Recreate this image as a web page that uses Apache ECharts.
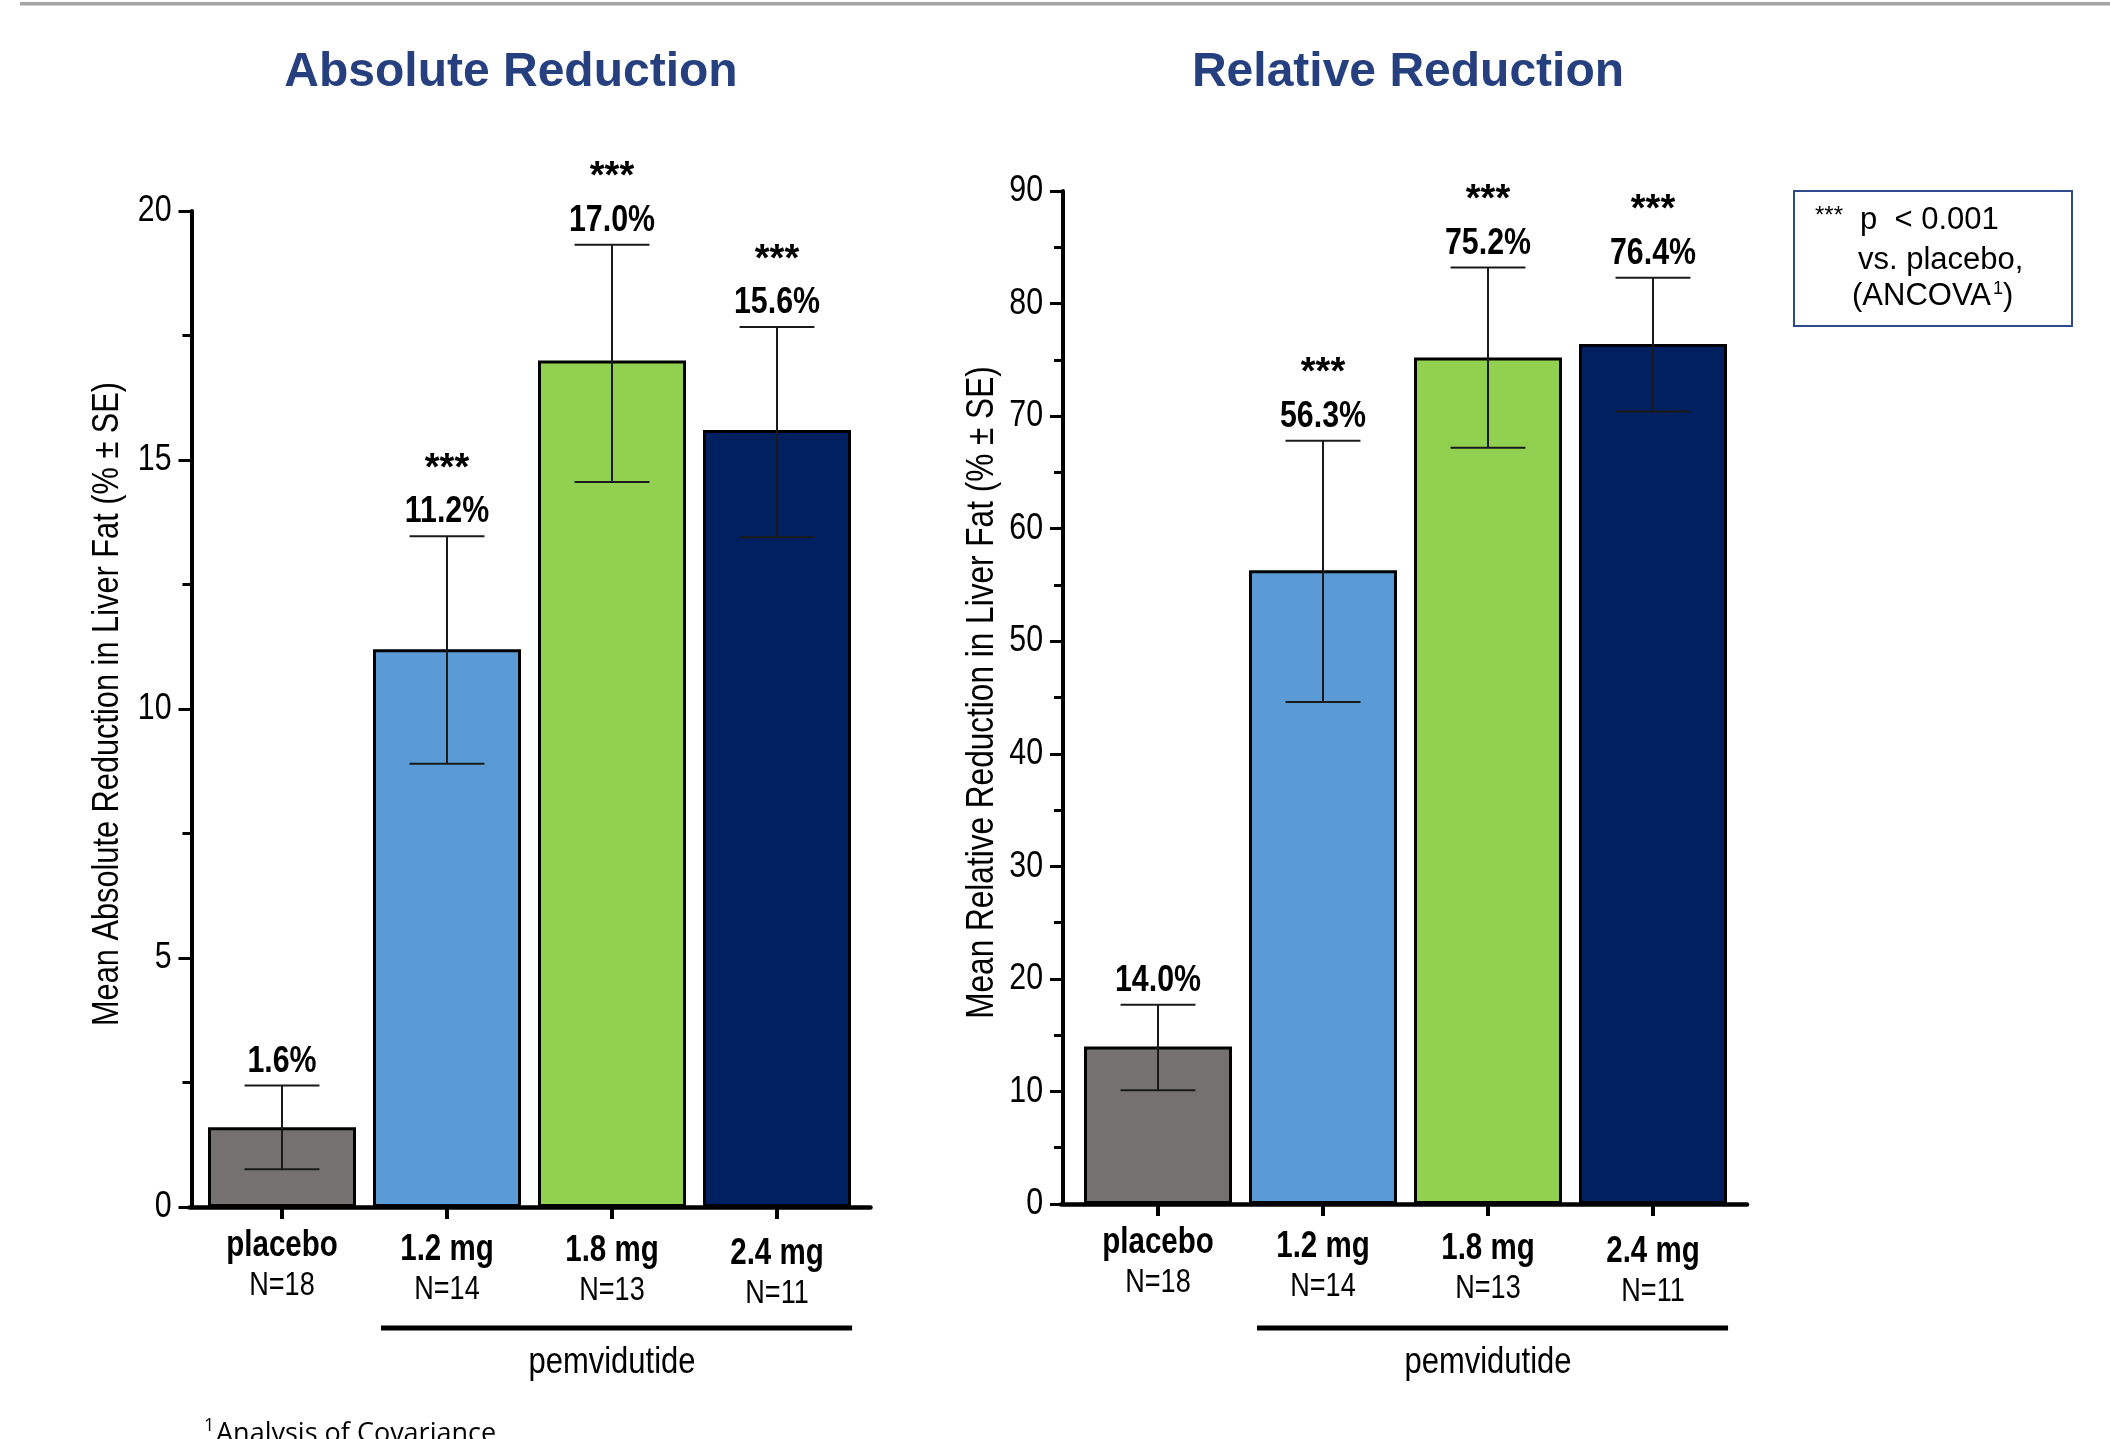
<!DOCTYPE html>
<html><head><meta charset="utf-8">
<script src="https://cdn.jsdelivr.net/npm/echarts@6/dist/echarts.min.js"></script>
<style>html,body{margin:0;padding:0;background:#fff;overflow:hidden}#c{width:2110px;height:1439px}</style>
</head><body><div id="c"></div>
<script>
// ---- data ----
const categories = ['placebo', '1.2 mg', '1.8 mg', '2.4 mg'];
const nLabels = ['N=18', 'N=14', 'N=13', 'N=11'];
const sigMarks = ['', '***', '***', '***'];
const absMean = [1.6, 11.2, 17.0, 15.6];
const absLow  = [0.76, 8.9, 14.56, 13.45];
const absHigh = [2.44, 13.47, 19.32, 17.67];
const relMean = [14.0, 56.3, 75.2, 76.4];
const relLow  = [10.1, 44.6, 67.2, 70.4];
const relHigh = [17.7, 67.8, 83.2, 82.3];
const absTicks = [0, 5, 10, 15, 20];
const relTicks = [0, 10, 20, 30, 40, 50, 60, 70, 80, 90];
const groupLabel = 'pemvidutide';
const groupRange = [1, 3];
const titles = ['Absolute Reduction', 'Relative Reduction'];
const yNames = ['Mean Absolute Reduction in Liver Fat (% \u00b1 SE)', 'Mean Relative Reduction in Liver Fat (% \u00b1 SE)'];
const legendLines = ['p  < 0.001', 'vs. placebo,', '(ANCOVA'];
const footnote = 'Analysis of Covariance';

// ---- style ----
const barColors = ['#767171', '#5b9bd5', '#92d050', '#002060'];
const SANS = '"Liberation Sans",Arial,Helvetica,sans-serif';
const NX = 0.82; // horizontal condensing to mimic a narrow face
const NAVY = '#253f7f';
const staggerL = [0, 4, 5, 8];
const staggerR = [0, 4, 6, 9];
const yOffsets = [8, 12.5];
const nameSizes = [37.5, 38.5];

const chart = echarts.init(document.getElementById('c'));

function ntext(x, y, text, font, align, extra, sx) {
  return Object.assign({ type: 'text', x: x, y: y, scaleX: sx || NX, silent: true,
    style: { text: text, x: 0, y: 0, align: align || 'center', verticalAlign: 'middle', font: font, fill: '#000' } }, extra || {});
}

function xCat(gi) {
  return {
    type: 'category', gridIndex: gi, data: categories,
    axisLine: { show: false },
    axisTick: { show: true, alignWithLabel: true, length: 12, lineStyle: { width: 4, color: '#000' } },
    axisLabel: { show: false }, splitLine: { show: false }
  };
}
function xLine(gi) {
  return {
    type: 'value', gridIndex: gi, min: 0, max: 1,
    axisLine: { show: true, onZero: false, lineStyle: { color: '#000', width: 4.5 } },
    axisTick: { show: false }, axisLabel: { show: false }, splitLine: { show: false }
  };
}
function yVal(gi, ticks, offset) {
  return {
    type: 'value', gridIndex: gi, min: ticks[0], max: ticks[ticks.length - 1], interval: ticks[1] - ticks[0],
    offset: offset,
    axisLine: { show: true, lineStyle: { color: '#000', width: 4 } },
    axisTick: { show: true, length: 13, lineStyle: { width: 3, color: '#000' } },
    minorTick: { show: true, splitNumber: 2, length: 9, lineStyle: { width: 3, color: '#000' } },
    splitLine: { show: false }, minorSplitLine: { show: false },
    axisLabel: { show: false }
  };
}
function yHidden(gi) {
  return { type: 'value', gridIndex: gi, min: 0, max: 1, show: false };
}
function barSeries(xi, mean) {
  return {
    type: 'bar', xAxisIndex: xi, yAxisIndex: xi, barWidth: 148, z: 2,
    data: mean.map((v, i) => ({ value: v, itemStyle: { color: barColors[i] } })),
    itemStyle: { borderColor: '#000', borderWidth: 3 },
    emphasis: { disabled: true }, animation: false
  };
}
function errSeries(xi, mean, low, high) {
  return {
    type: 'custom', xAxisIndex: xi, yAxisIndex: xi, z: 5, clip: false, animation: false, silent: true,
    data: categories.map((c, i) => [i, low[i], high[i], mean[i]]),
    renderItem: (params, api) => {
      const i = api.value(0);
      const lo = api.coord([i, api.value(1)]);
      const hi = api.coord([i, api.value(2)]);
      const half = api.size([1, 0])[0] * 0.227;
      const x = hi[0];
      const ls = { stroke: '#1a1a1a', lineWidth: 2 };
      const ch = [
        { type: 'line', shape: { x1: x, y1: lo[1], x2: x, y2: hi[1] }, style: ls },
        { type: 'line', shape: { x1: x - half, y1: hi[1], x2: x + half, y2: hi[1] }, style: ls },
        { type: 'line', shape: { x1: x - half, y1: lo[1], x2: x + half, y2: lo[1] }, style: ls },
        ntext(x, hi[1] - 24, api.value(3).toFixed(1) + '%', 'bold 37px ' + SANS)
      ];
      if (sigMarks[i]) ch.push({ type: 'text', x: x, y: hi[1] - 67, silent: true,
        style: { text: sigMarks[i], x: 0, y: 0, align: 'center', verticalAlign: 'middle', font: 'bold 38px ' + SANS, fill: '#000' } });
      return { type: 'group', children: ch };
    }
  };
}
function catLabelSeries(xi, stagger) {
  return {
    type: 'custom', xAxisIndex: xi, yAxisIndex: xi, z: 5, clip: false, animation: false, silent: true,
    data: categories.map((c, i) => [i, 0]),
    renderItem: (params, api) => {
      const i = api.value(0);
      const p = api.coord([i, 0]);
      return { type: 'group', children: [
        ntext(p[0], p[1] + 39 + stagger[i], categories[i], 'bold 36px ' + SANS),
        ntext(p[0], p[1] + 79 + stagger[i], nLabels[i], '33px ' + SANS)
      ] };
    }
  };
}
function yLabelSeries(xi, ticks, name, nameDist) {
  const mid = (ticks[0] + ticks[ticks.length - 1]) / 2;
  return {
    type: 'custom', xAxisIndex: xi, yAxisIndex: xi, z: 5, clip: false, animation: false, silent: true,
    dimensions: ['x', 'y', 'kind'],
    encode: { x: 0, y: 1 },
    data: ticks.map(t => [0, t, 0]).concat([[0, mid, 1]]),
    renderItem: (params, api) => {
      const p = api.coord([0, api.value(1)]);
      const band = api.size([1, 0])[0];
      const axisX = p[0] - band / 2 - yOffsets[xi];
      if (api.value(2) === 1) {
        return ntext(axisX - nameDist, p[1] - 5, name, nameSizes[xi] + 'px ' + SANS, 'center', { rotation: Math.PI / 2 });
      }
      return ntext(axisX - 20, p[1], String(api.value(1)), '37px ' + SANS, 'right');
    }
  };
}
function groupSeries(xi, dy) {
  return {
    type: 'custom', xAxisIndex: xi, yAxisIndex: xi, z: 5, clip: false, animation: false, silent: true,
    data: [[groupRange[0], groupRange[1]]],
    renderItem: (params, api) => {
      const a = api.coord([api.value(0), 0]);
      const b = api.coord([api.value(1), 0]);
      const band = api.size([1, 0])[0];
      const x1 = a[0] - 0.40 * band, x2 = b[0] + 0.455 * band;
      const y = a[1] + dy;
      const mid = api.coord([(api.value(0) + api.value(1)) / 2, 0]);
      return { type: 'group', children: [
        { type: 'rect', shape: { x: x1, y: y - 2.5, width: x2 - x1, height: 5 }, style: { fill: '#000' } },
        ntext(mid[0], y + 35, groupLabel, '36px ' + SANS, 'center', null, 0.86)
      ] };
    }
  };
}

const option = {
  backgroundColor: '#fff',
  animation: false,
  grid: [
    { left: 199.5, top: 211, width: 660, height: 996 },
    { left: 1075.5, top: 191, width: 660, height: 1013 },
    { left: 189.5, top: 211, width: 681, height: 996 },
    { left: 1061, top: 191, width: 686, height: 1013 }
  ],
  xAxis: [xCat(0), xCat(1), xLine(2), xLine(3)],
  yAxis: [yVal(0, absTicks, yOffsets[0]), yVal(1, relTicks, yOffsets[1]), yHidden(2), yHidden(3)],
  series: [
    barSeries(0, absMean), barSeries(1, relMean),
    errSeries(0, absMean, absLow, absHigh), errSeries(1, relMean, relLow, relHigh),
    catLabelSeries(0, staggerL), catLabelSeries(1, staggerR),
    yLabelSeries(0, absTicks, yNames[0], 84), yLabelSeries(1, relTicks, yNames[1], 81),
    groupSeries(0, 121), groupSeries(1, 124)
  ],
  graphic: [
    { type: 'rect', left: 20, top: 2, shape: { width: 2090, height: 3.5 }, style: { fill: '#a5a5a5' }, silent: true },
    { type: 'text', x: 511, y: 73, style: { text: titles[0], align: 'center', verticalAlign: 'middle', font: 'bold 48px ' + SANS, fill: NAVY } },
    { type: 'text', x: 1408, y: 73, style: { text: titles[1], align: 'center', verticalAlign: 'middle', font: 'bold 48px ' + SANS, fill: NAVY } },
    { type: 'rect', shape: { x: 1794, y: 191, width: 278, height: 135 }, style: { fill: '#fff', stroke: '#2f4a8a', lineWidth: 2 } },
    { type: 'text', x: 1815, y: 216, style: { text: '***', align: 'left', verticalAlign: 'middle', font: '24px ' + SANS, fill: '#000' } },
    { type: 'text', x: 1860, y: 220, style: { text: legendLines[0], align: 'left', verticalAlign: 'middle', font: '31px ' + SANS, fill: '#000' } },
    { type: 'text', x: 1858, y: 260, style: { text: legendLines[1], align: 'left', verticalAlign: 'middle', font: '31px ' + SANS, fill: '#000' } },
    { type: 'text', x: 1852, y: 296, style: { text: legendLines[2], align: 'left', verticalAlign: 'middle', font: '31px ' + SANS, fill: '#000' } },
    { type: 'text', x: 1993, y: 289, style: { text: '1', align: 'left', verticalAlign: 'middle', font: '18px ' + SANS, fill: '#000' } },
    { type: 'text', x: 2003, y: 296, style: { text: ')', align: 'left', verticalAlign: 'middle', font: '31px ' + SANS, fill: '#000' } },
    { type: 'text', x: 204, y: 1426, style: { text: '1', align: 'left', verticalAlign: 'middle', font: '18px "Open Sans",sans-serif', fill: '#000' } },
    { type: 'text', x: 216, y: 1434, style: { text: footnote, align: 'left', verticalAlign: 'middle', font: '27px "Open Sans",sans-serif', fill: '#000' } }
  ]
};
chart.setOption(option);
</script></body></html>
